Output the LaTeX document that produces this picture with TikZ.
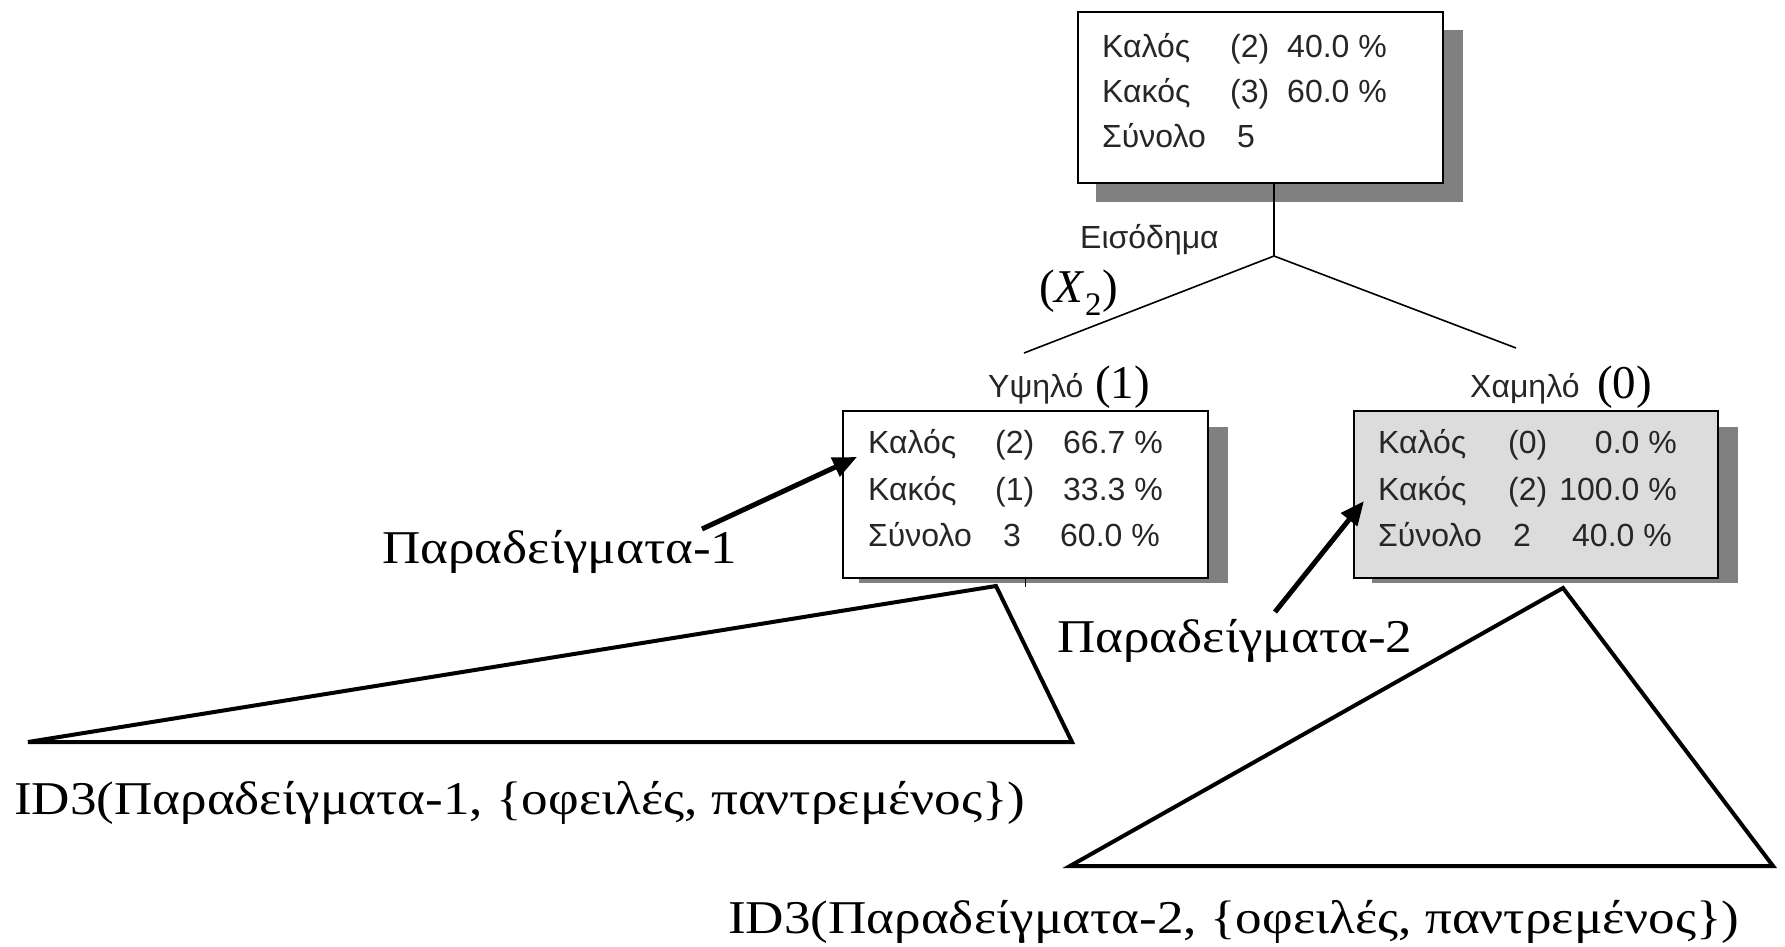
\documentclass[tikz,border=0pt]{standalone}
\usepackage{fontspec}
\setmainfont{Liberation Serif}
\newfontfamily\boxfont{Liberation Sans}
\usetikzlibrary{arrows.meta}
\definecolor{shadowc}{HTML}{808080}
\definecolor{leaffill}{HTML}{DCDCDC}
\newcommand{\widen}[1]{\scalebox{1.13}[1]{#1}}
\begin{document}
\begin{tikzpicture}[x=1pt,y=-1pt,
  boxtxt/.style={font=\boxfont\fontsize{32}{36}\selectfont, inner sep=0pt, text=black!85},
  bigtxt/.style={font=\fontsize{47}{52}\selectfont, inner sep=0pt},
  treebox/.style={draw=black, line width=2pt, anchor=north west, inner sep=0pt},
  shadowbox/.style={fill=shadowc},
  branch/.style={line width=1.6pt},
  tri/.style={line width=4pt, line join=miter},
  pointer/.style={line width=5pt, -{Triangle[length=24pt,width=20pt]}}]
\useasboundingbox (0,0) rectangle (1785,946);
% shadows
\fill[shadowbox] (1096,30) rectangle (1463,202);
\fill[shadowbox] (859,427) rectangle (1228,583);
\fill[shadowbox] (1372,427) rectangle (1738,583);
% boxes
\node[treebox, fill=white, minimum width=365pt, minimum height=171pt] (root) at (1077,11) {};
\node[treebox, fill=white, minimum width=365pt, minimum height=167pt] (hi) at (842,410) {};
\node[treebox, fill=leaffill, minimum width=364pt, minimum height=167pt] (lo) at (1353,410) {};
% root text
\node[boxtxt, anchor=base west] (r11) at (1102,57) {Καλός};
\node[boxtxt, anchor=base west] (r12) at (1230,57) {(2)};
\node[boxtxt, anchor=base west] (r13) at (1287,57) {40.0 \%};
\node[boxtxt, anchor=base west] (r21) at (1102,102) {Κακός};
\node[boxtxt, anchor=base west] (r22) at (1230,102) {(3)};
\node[boxtxt, anchor=base west] (r23) at (1287,102) {60.0 \%};
\node[boxtxt, anchor=base west] (r31) at (1102,147) {Σύνολο};
\node[boxtxt, anchor=base west] (r32) at (1237,147) {5};
% hi text
\node[boxtxt, anchor=base west] (h11) at (868,453) {Καλός};
\node[boxtxt, anchor=base west] (h12) at (995,453) {(2)};
\node[boxtxt, anchor=base east] (h13) at (1163,453) {66.7 \%};
\node[boxtxt, anchor=base west] (h21) at (868,500) {Κακός};
\node[boxtxt, anchor=base west] (h22) at (995,500) {(1)};
\node[boxtxt, anchor=base east] (h23) at (1163,500) {33.3 \%};
\node[boxtxt, anchor=base west] (h31) at (868,546) {Σύνολο};
\node[boxtxt, anchor=base west] (h32) at (1003,546) {3};
\node[boxtxt, anchor=base east] (h33) at (1160,546) {60.0 \%};
% lo text
\node[boxtxt, anchor=base west] (l11) at (1378,453) {Καλός};
\node[boxtxt, anchor=base west] (l12) at (1508,453) {(0)};
\node[boxtxt, anchor=base east] (l13) at (1677,453) {0.0 \%};
\node[boxtxt, anchor=base west] (l21) at (1378,500) {Κακός};
\node[boxtxt, anchor=base west] (l22) at (1508,500) {(2)};
\node[boxtxt, anchor=base east] (l23) at (1677,500) {100.0 \%};
\node[boxtxt, anchor=base west] (l31) at (1378,546) {Σύνολο};
\node[boxtxt, anchor=base west] (l32) at (1513,546) {2};
\node[boxtxt, anchor=base east] (l33) at (1672,546) {40.0 \%};
% split
\coordinate (split) at (1274,256);
\coordinate (hiend) at (1024,353);
\coordinate (loend) at (1516,348);
\draw[branch] (split |- root.south) -- (split);
\draw[branch] (hiend) -- (split) -- (loend);
\draw[branch] (hi.south) -- ++(0,8);
\node[boxtxt, anchor=base west] (attr) at (1080,248) {Εισόδημα};
\node[bigtxt, anchor=base west] (xlab) at (1039,302) {(\textit{X}\textsubscript{2})};
\node[boxtxt, anchor=base west] (hil) at (988,397) {Υψηλό};
\node[bigtxt, anchor=base west] (hiv) at (1095,398) {(1)};
\node[boxtxt, anchor=base west] (lol) at (1470,397) {Χαμηλό};
\node[bigtxt, anchor=base west] (lov) at (1597,398) {(0)};
% examples labels and pointers
\node[bigtxt, anchor=base west] (ex1) at (382,563) {\widen{Παραδείγματα-1}};
\node[bigtxt, anchor=base west] (ex2) at (1057,652) {\widen{Παραδείγματα-2}};
\coordinate (a1s) at (702,529);
\coordinate (a1e) at (857,457);
\coordinate (a2s) at (1275,612);
\coordinate (a2e) at (1364,501);
\draw[pointer] (a1s) -- (a1e);
\draw[pointer] (a2s) -- (a2e);
% subtrees
\coordinate (t1a) at (996,586);
\coordinate (t1l) at (28,742);
\coordinate (t1r) at (1072,742);
\coordinate (t2a) at (1563,588);
\coordinate (t2l) at (1070,866);
\coordinate (t2r) at (1773,866);
\draw[tri] (t1a) -- (t1l) -- (t1r) -- cycle;
\draw[tri] (t2a) -- (t2l) -- (t2r) -- cycle;
\node[bigtxt, anchor=base west] (id1) at (14,814) {\widen{ID3(Παραδείγματα-1, \{οφειλές, παντρεμένος\})}};
\node[bigtxt, anchor=base west] (id2) at (728,933) {\widen{ID3(Παραδείγματα-2, \{οφειλές, παντρεμένος\})}};
\end{tikzpicture}
\end{document}
